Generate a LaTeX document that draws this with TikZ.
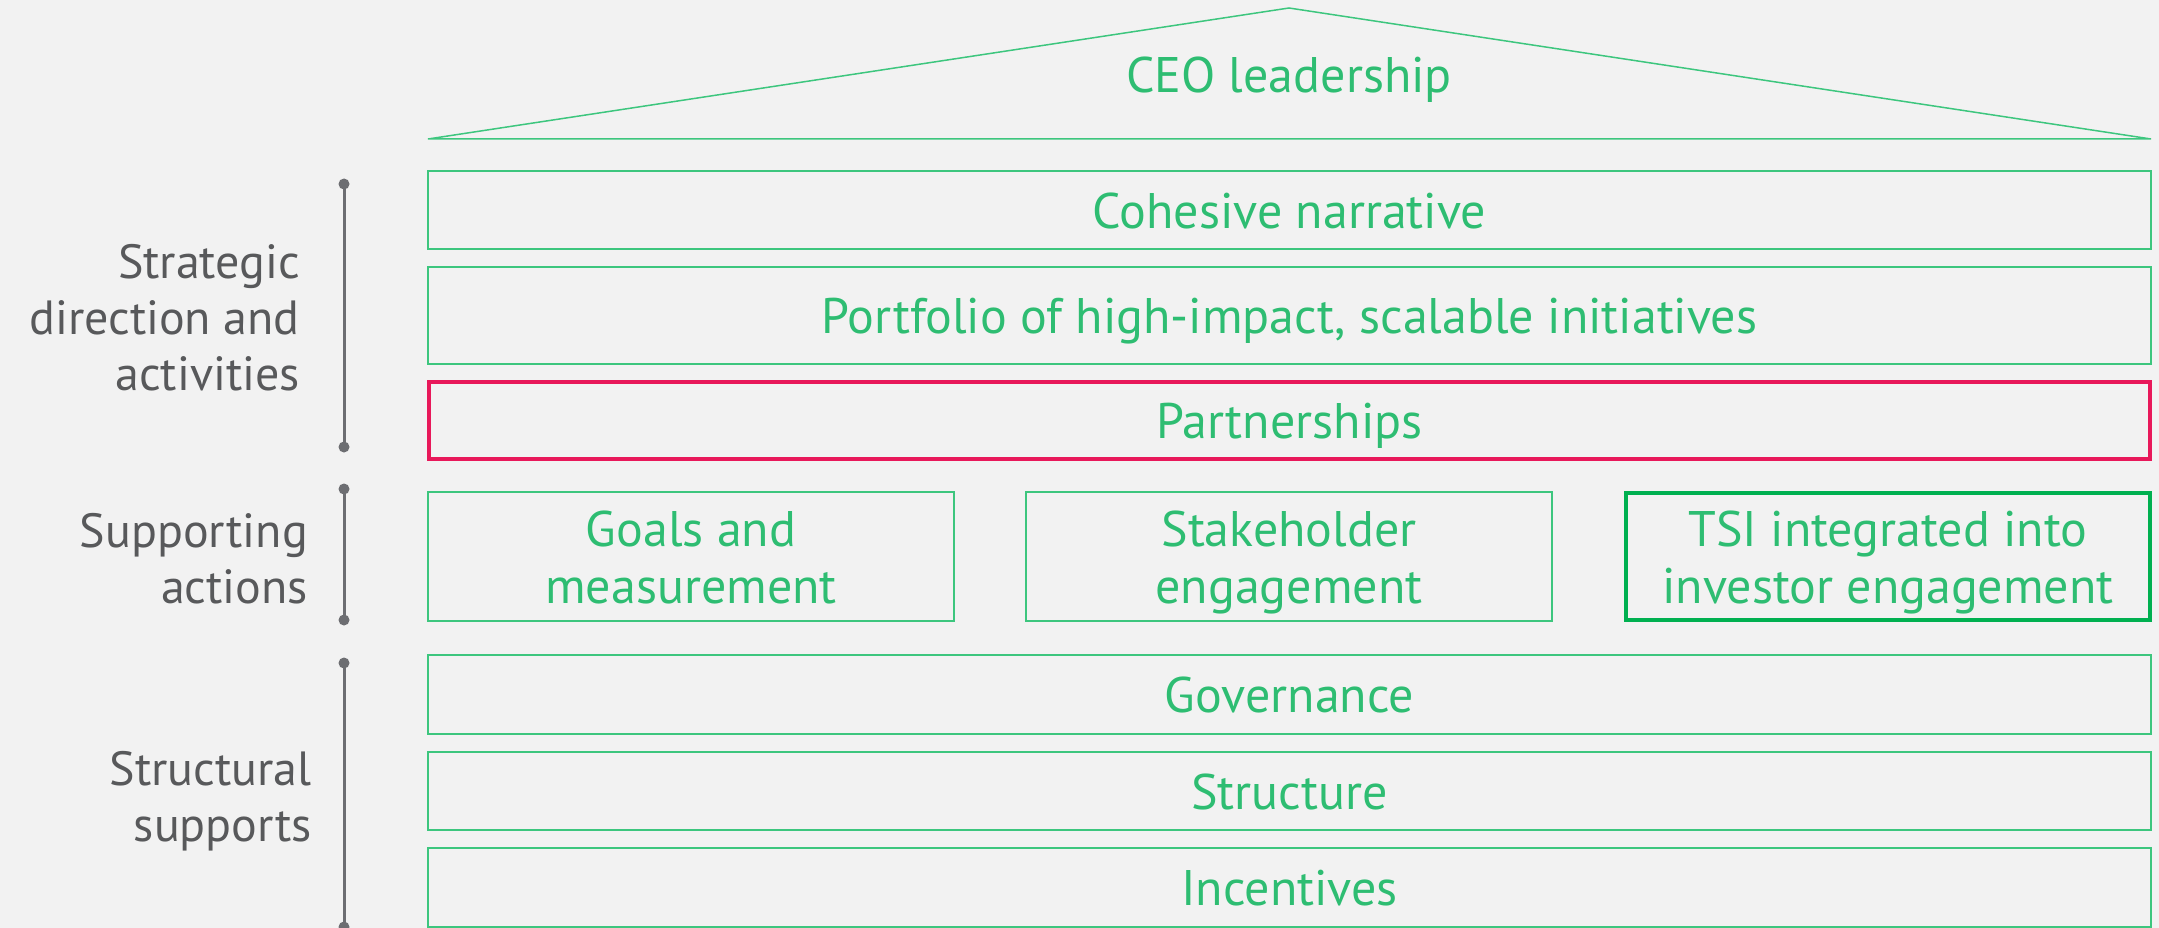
\documentclass[tikz,border=0pt]{standalone}
\usepackage{fontspec}
\setmainfont{PT Sans}
\usetikzlibrary{arrows.meta}
\definecolor{bgc}{HTML}{F2F2F2}
\definecolor{txtgreen}{HTML}{2EBD72}
\definecolor{linegreen}{HTML}{3DC67E}
\definecolor{strongg}{HTML}{00B050}
\definecolor{redc}{HTML}{E8185A}
\definecolor{labgray}{HTML}{58595B}
\definecolor{brgray}{HTML}{6D6E72}
\newcommand\tstrut{\rule{0pt}{50pt}}
\newcommand\bstrut{\rule[-14pt]{0pt}{14pt}}
\tikzset{
  boxtext/.style={text=txtgreen, font=\fontsize{50}{57}\selectfont, align=center, inner sep=0pt},
  oneline/.style={text height=50pt, text depth=14pt},
  gbox/.style={boxtext, draw=linegreen, line width=1.5pt},
  rbox/.style={boxtext, draw=redc, line width=3.5pt},
  sbox/.style={boxtext, draw=strongg, line width=3.5pt},
  lab/.style={text=labgray, font=\fontsize{48}{56}\selectfont, align=right, inner sep=0pt, anchor=east},
  bracketline/.style={draw=brgray, line width=3pt},
  dot/.style={fill=brgray},
}
\begin{document}
\begin{tikzpicture}[x=1pt,y=-1pt]
\fill[bgc] (0,0) rectangle (2159,928);
\useasboundingbox (0,0) rectangle (2159,928);
% roof
\coordinate (rl) at (428,139);
\coordinate (rt) at (1289,8);
\coordinate (rr) at (2151,139);
\draw[linegreen, line width=1.5pt, line join=miter] (rl) -- (rt) -- (rr) -- cycle;
\node[boxtext, oneline] (ceo) at (1289,75) {CEO leadership};
% rows
\node[gbox, oneline, minimum width=1723pt, minimum height=78pt] (coh) at (1289.5,210) {Cohesive narrative};
\node[gbox, oneline, minimum width=1723pt, minimum height=97pt] (port) at (1289.5,315.5) {Portfolio of high-impact, scalable initiatives};
\node[rbox, oneline, minimum width=1721pt, minimum height=77pt] (part) at (1289.5,420.5) {Partnerships};
\node[gbox, minimum width=526pt, minimum height=129pt] (goal) at (691,556.5) {\tstrut Goals and\\measurement\bstrut};
\node[gbox, minimum width=526pt, minimum height=129pt] (stake) at (1289,556.5) {\tstrut Stakeholder\\engagement\bstrut};
\node[sbox, minimum width=524pt, minimum height=127pt] (tsi) at (1888,556.5) {\tstrut TSI integrated into\\investor engagement\bstrut};
\node[gbox, oneline, minimum width=1723pt, minimum height=79pt] (gov) at (1289.5,694.5) {Governance};
\node[gbox, oneline, minimum width=1723pt, minimum height=78pt] (str) at (1289.5,791) {Structure};
\node[gbox, oneline, minimum width=1723pt, minimum height=79pt] (inc) at (1289.5,887.5) {Incentives};
% brackets
\coordinate (a1) at (344,184); \coordinate (a2) at (344,447);
\coordinate (b1) at (344,489); \coordinate (b2) at (344,620);
\coordinate (c1) at (344,663); \coordinate (c2) at (344,927);
\draw[bracketline] (a1) -- (a2);
\draw[bracketline] (b1) -- (b2);
\draw[bracketline] (c1) -- (c2);
\foreach \p in {a1,a2,b1,b2,c1,c2} \fill[dot] (\p) circle (5.5pt);
% labels
\node[lab] (l1) at (300,318) {Strategic\\direction and\\activities};
\node[lab] (l2) at (308,559) {Supporting\\actions};
\node[lab] (l3) at (312,801) {Structural\\supports};
\end{tikzpicture}
\end{document}
